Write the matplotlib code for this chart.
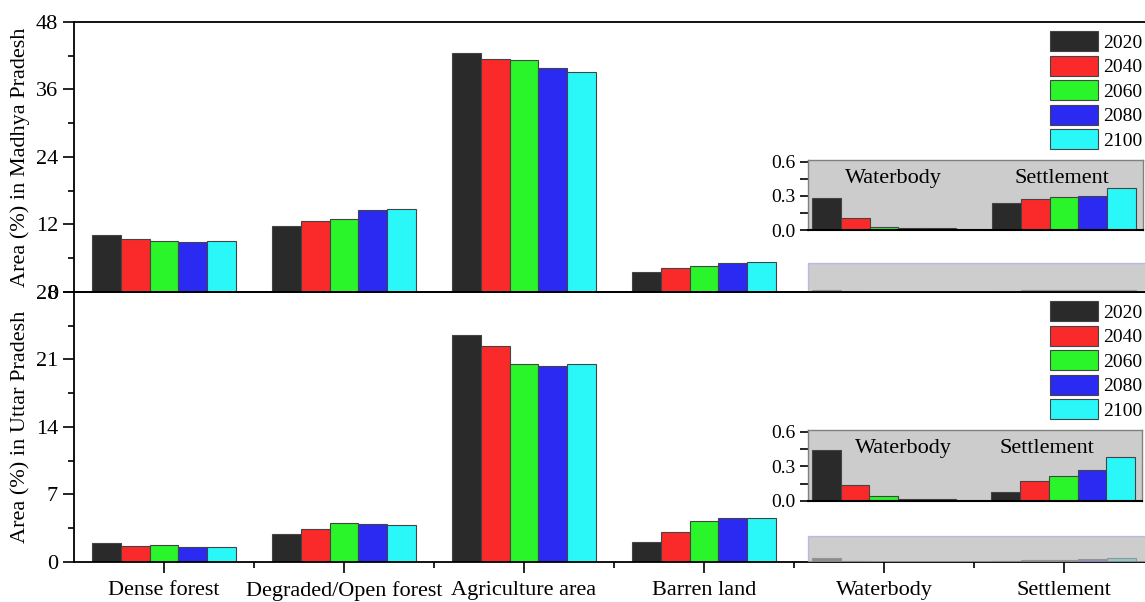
import matplotlib.pyplot as plt
import numpy as np
from matplotlib.patches import Rectangle
from matplotlib.ticker import MultipleLocator, FixedLocator

plt.rcParams['font.family'] = ['Liberation Serif', 'DejaVu Serif']

categories = ['Dense forest', 'Degraded/Open forest', 'Agriculture area',
              'Barren land', 'Waterbody', 'Settlement']
years = ['2020', '2040', '2060', '2080', '2100']
colors = ['#2a2a2a', '#fa2a2a', '#2af52a', '#2a2af2', '#2af8f8']

# area (%) in Madhya Pradesh, one list per year
mp_2020 = [10.1, 11.8, 42.4, 3.6, 0.28, 0.24]
mp_2040 = [9.4, 12.7, 41.5, 4.3, 0.11, 0.27]
mp_2060 = [9.1, 13.0, 41.3, 4.7, 0.03, 0.29]
mp_2080 = [8.8, 14.5, 39.9, 5.1, 0.015, 0.30]
mp_2100 = [9.0, 14.8, 39.1, 5.3, 0.015, 0.37]

# area (%) in Uttar Pradesh
up_2020 = [1.94, 2.87, 23.5, 2.07, 0.44, 0.075]
up_2040 = [1.69, 3.39, 22.4, 3.15, 0.14, 0.17]
up_2060 = [1.76, 4.08, 20.5, 4.25, 0.045, 0.215]
up_2080 = [1.59, 3.98, 20.3, 4.6, 0.02, 0.27]
up_2100 = [1.59, 3.84, 20.5, 4.6, 0.02, 0.38]

mp = [mp_2020, mp_2040, mp_2060, mp_2080, mp_2100]
up = [up_2020, up_2040, up_2060, up_2080, up_2100]

x = np.arange(len(categories))
bw = 0.16

fig = plt.figure(figsize=(11.45, 6.02), dpi=100)
ax1 = fig.add_axes([0.0646, 0.5150, 0.9432, 0.4485])
ax2 = fig.add_axes([0.0646, 0.0665, 0.9432, 0.4485])


def draw_bars(ax, data):
    for i, vals in enumerate(data):
        ax.bar(x + (i - 2) * bw, vals, bw, color=colors[i], edgecolor='#444444',
               linewidth=0.8, label=years[i], zorder=2)


def style_main(ax, ymax, step):
    ax.set_xlim(-0.5, 5.5)
    ax.set_ylim(0, ymax)
    ax.yaxis.set_major_locator(MultipleLocator(step))
    ax.yaxis.set_minor_locator(MultipleLocator(step / 2))
    ax.tick_params(axis='y', which='major', length=8, width=1.2, labelsize=16, direction='out')
    ax.tick_params(axis='y', which='minor', length=4.5, width=1.2, direction='out')
    for s in ax.spines.values():
        s.set_linewidth(1.3)
    ax.set_facecolor('none')
    ax.legend(loc='upper right', bbox_to_anchor=(0.989, 0.965), fontsize=14, frameon=False,
              handlelength=2.45, handleheight=1.2, labelspacing=0.2, handletextpad=0.25,
              borderaxespad=0, borderpad=0)


draw_bars(ax1, mp)
draw_bars(ax2, up)
style_main(ax1, 48, 12)
style_main(ax2, 28, 7)

ax1.tick_params(axis='x', which='both', bottom=False, labelbottom=False)
ax2.set_xticks(x, categories)
ax2.xaxis.set_minor_locator(FixedLocator(x[:-1] + 0.5))
ax2.tick_params(axis='x', which='major', length=8, width=1.2, labelsize=16, pad=6)
ax2.tick_params(axis='x', which='minor', length=4.5, width=1.2)

ax1.set_ylabel('Area (%) in Madhya Pradesh', fontsize=16, labelpad=4)
ax2.set_ylabel('Area (%) in Uttar Pradesh', fontsize=16, labelpad=4)

# zoom source boxes
ax1.add_patch(Rectangle((3.578, 0), 2.0, 5.15, facecolor='#b8b8b8', alpha=0.7,
                        edgecolor='#a8a8e0', linewidth=1, zorder=3))
ax2.add_patch(Rectangle((3.578, 0), 2.0, 2.73, facecolor='#b8b8b8', alpha=0.7,
                        edgecolor='#a8a8e0', linewidth=1, zorder=3))


def inset(rect, data, labels_x):
    ins = fig.add_axes(rect)
    for i, vals in enumerate(data):
        ins.bar(x[4:] + (i - 2) * bw, vals[4:], bw, color=colors[i], edgecolor='#444444',
                linewidth=0.8, zorder=2)
    ins.set_xlim(3.578, 5.439)
    ins.set_ylim(0, 0.615)
    ins.set_facecolor('#c4c4c4')
    ins.patch.set_alpha(0.85)
    ins.yaxis.set_major_locator(MultipleLocator(0.3))
    ins.yaxis.set_minor_locator(MultipleLocator(0.15))
    ins.yaxis.set_major_formatter('{x:.1f}')
    ins.tick_params(axis='y', which='both', length=6, width=1.2, labelsize=14, pad=3)
    ins.tick_params(axis='x', which='both', bottom=False, labelbottom=False)
    for name in ['top', 'right', 'left']:
        ins.spines[name].set_color('#808080')
        ins.spines[name].set_linewidth(1)
    ins.spines['bottom'].set_linewidth(1.5)
    for lx, lab in zip(labels_x, ['Waterbody', 'Settlement']):
        ins.text(lx, 0.74, lab, transform=ins.get_xaxis_transform(), ha='center', va='center',
                 fontsize=16)
    return ins


inset([0.7057, 0.6179, 0.2926, 0.1163], mp, [4.05, 4.99])
inset([0.7057, 0.1678, 0.2917, 0.1179], up, [4.11, 4.91])

fig.savefig('out.png', dpi=100)
